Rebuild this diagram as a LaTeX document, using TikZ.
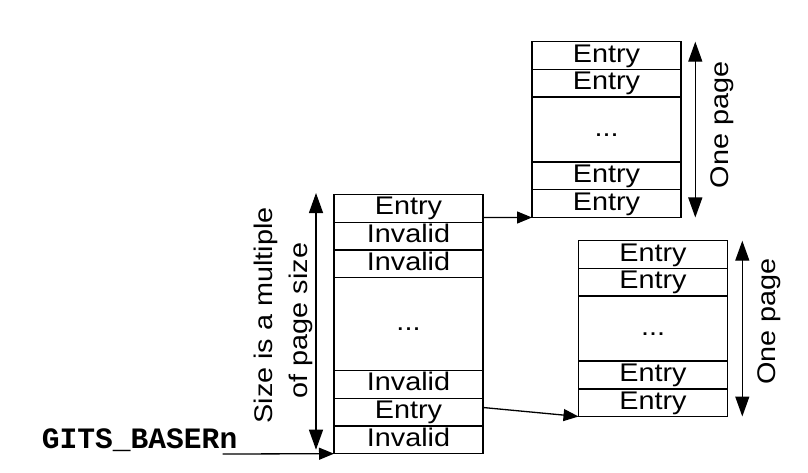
\documentclass[tikz,border=0pt]{standalone}
\usepackage{fontspec}
\usepackage{graphicx}
\setmainfont{Liberation Sans}
\newfontfamily\gitsfont{Liberation Mono}
\usetikzlibrary{arrows.meta,calc}
\newcommand\stretchtxt[1]{\scalebox{1.13}[1]{#1}}
\begin{document}
\begin{tikzpicture}[x=1pt,y=-1pt,
  row/.style={draw, line width=1.4pt, minimum width=149pt, minimum height=27.7pt,
    inner sep=0pt, outer sep=0pt, anchor=north west, text height=18.5pt, text depth=5.5pt,
    font=\fontsize{25.5}{30}\selectfont},
  bigrow/.style={row, minimum height=#1},
  conn/.style={line width=1.3pt, -{Triangle[length=15pt,width=12pt]}},
  dim/.style={line width=1.3pt, {Triangle[length=20pt,width=14pt]}-{Triangle[length=20pt,width=14pt]}},
  lbl/.style={rotate=90, anchor=base, inner sep=0pt, font=\fontsize{25.5}{30}\selectfont}
]
\useasboundingbox (0,0) rectangle (808,473);
% main table
\node[row] (m1) at (334,194.5) {\stretchtxt{Entry}};
\node[row] (m2) at (m1.south west) {\stretchtxt{Invalid}};
\node[row] (m3) at (m2.south west) {\stretchtxt{Invalid}};
\node[bigrow=93pt] (m4) at (m3.south west) {\stretchtxt{...}};
\node[row] (m5) at (m4.south west) {\stretchtxt{Invalid}};
\node[row] (m6) at (m5.south west) {\stretchtxt{Entry}};
\node[row] (m7) at (m6.south west) {\stretchtxt{Invalid}};
% top right table
\node[row] (t1) at (532,41.7) {\stretchtxt{Entry}};
\node[row] (t2) at (t1.south west) {\stretchtxt{Entry}};
\node[bigrow=65pt] (t3) at (t2.south west) {\stretchtxt{...}};
\node[row] (t4) at (t3.south west) {\stretchtxt{Entry}};
\node[row] (t5) at (t4.south west) {\stretchtxt{Entry}};
% bottom right table
\node[row] (b1) at (578.5,240.7) {\stretchtxt{Entry}};
\node[row] (b2) at (b1.south west) {\stretchtxt{Entry}};
\node[bigrow=65pt] (b3) at (b2.south west) {\stretchtxt{...}};
\node[row] (b4) at (b3.south west) {\stretchtxt{Entry}};
\node[row] (b5) at (b4.south west) {\stretchtxt{Entry}};
% connectors
\draw[conn] ($(m1.south east)+(0,-4.7)$) -- (t5.south west);
\draw[conn] ($(m6.north east)+(0,9.2)$) -- (b5.south west);
\node[anchor=base west, inner sep=0pt, font=\gitsfont\bfseries\fontsize{29.6}{32}\selectfont] (g) at (41.7,448) {GITS\_BASERn};
\coordinate (gs) at (222.7,454);
\draw[conn] (gs) -- (m7.south west);
% dimension arrows
\coordinate (s1) at ($(m1.north west)+(-18,-1.5)$);
\coordinate (s2) at ($(m7.south west)+(-18,-4)$);
\draw[dim] (s1) -- (s2);
\coordinate (o1) at ($(t1.north east)+(14.3,0)$);
\coordinate (o2) at ($(t5.south east)+(14.3,0)$);
\draw[dim] (o1) -- (o2);
\coordinate (p1) at ($(b1.north east)+(14.8,0)$);
\coordinate (p2) at ($(b5.south east)+(14.8,0)$);
\draw[dim] (p1) -- (p2);
% rotated labels
\node[lbl] (l1) at (272.7,315.5) {\stretchtxt{Size is a multiple}};
\node[lbl] (l2) at (307,320.5) {\stretchtxt{of page size}};
\node[lbl] (l3) at (728,125) {\stretchtxt{One page}};
\node[lbl] (l4) at (775,321.7) {\stretchtxt{One page}};
\end{tikzpicture}
\end{document}
